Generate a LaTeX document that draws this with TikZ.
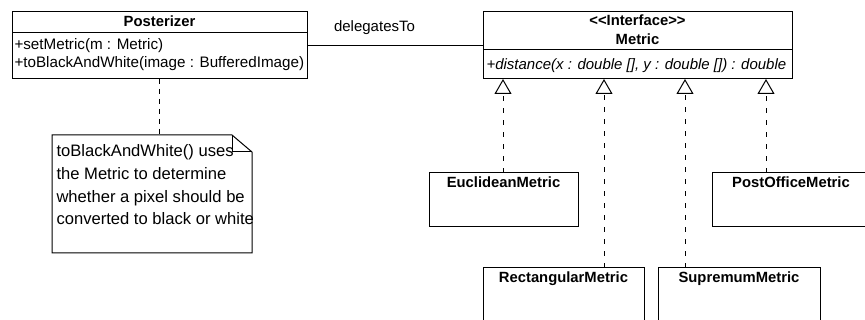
\documentclass[tikz,border=0pt]{standalone}
\usepackage{fontspec}
\setmainfont{Liberation Sans}
\usetikzlibrary{arrows.meta}
\begin{document}
\begin{tikzpicture}[x=1pt, y=-1pt, line width=1pt,
  box/.style={draw, line width=1pt, inner sep=0pt, outer sep=0pt, anchor=north west},
  plainbox/.style={inner sep=0pt, outer sep=0pt, anchor=north west},
  cname/.style={font=\fontsize{14.8}{17}\selectfont\bfseries, inner sep=0pt, anchor=base},
  member/.style={font=\fontsize{15.2}{17}\selectfont, inner sep=0pt, anchor=base west},
  opitalic/.style={member, font=\fontsize{15.0}{17}\selectfont\itshape},
  assoclabel/.style={font=\fontsize{15}{17}\selectfont, inner sep=0pt, anchor=base},
  notetext/.style={font=\fontsize{16.6}{20}\selectfont, inner sep=0pt, anchor=base west},
  assoc/.style={draw, line width=1pt},
  realize/.style={draw, line width=1pt, dash pattern=on 5pt off 7pt,
    -{Triangle[open, length=15pt, width=17pt, line width=1pt]}},
  noteline/.style={draw, line width=1pt, dash pattern=on 5pt off 5pt},
]
\clip (0,0) rectangle (865,320);
\fill[white] (0,0) rectangle (865,320);

% class Posterizer
\node[box, minimum width=295pt, minimum height=67pt] (poster) at (12,12) {};
\draw ([yshift=-21pt]poster.north west) -- ([yshift=-21pt]poster.north east);
\node[cname] (posterName) at ([yshift=-15pt]poster.north) {Posterizer};
\node[member] (posterOp1) at ([xshift=2pt,yshift=-38pt]poster.north west) {+setMetric(m : Metric)};
\node[member] (posterOp2) at ([xshift=2pt,yshift=-56pt]poster.north west) {+toBlackAndWhite(image : BufferedImage)};

% interface Metric
\node[box, minimum width=309pt, minimum height=67pt] (metric) at (483,12) {};
\draw ([yshift=-38pt]metric.north west) -- ([yshift=-38pt]metric.north east);
\node[cname] (metricStereo) at ([yshift=-14pt]metric.north) {<\kern0pt<Interface>\kern0pt>};
\node[cname] (metricName) at ([yshift=-33pt]metric.north) {Metric};
\node[opitalic] (metricOp) at ([xshift=3pt,yshift=-58pt]metric.north west) {+distance(x : double [], y : double []) : double};

% association
\draw[assoc] (poster.east) -- (metric.west);
\node[assoclabel] (assocName) at (374.5,32) {delegatesTo};

% implementations
\node[box, minimum width=149pt, minimum height=54pt] (euclid) at (429,173) {};
\node[cname] (euclidName) at ([yshift=-15pt]euclid.north) {EuclideanMetric};
\node[box, minimum width=158pt, minimum height=54pt] (postoffice) at (712,173) {};
\node[cname] (postofficeName) at ([yshift=-15pt]postoffice.north) {PostOfficeMetric};
\node[box, minimum width=161pt, minimum height=54pt] (rect) at (483,268) {};
\node[cname] (rectName) at ([yshift=-15pt]rect.north) {RectangularMetric};
\node[box, minimum width=162pt, minimum height=54pt] (supremum) at (658,268) {};
\node[cname] (supremumName) at ([yshift=-15pt]supremum.north) {SupremumMetric};

% realization arrows
\coordinate (euclidTop) at ([xshift=74pt]euclid.north west);
\coordinate (rectTop) at ([xshift=121pt]rect.north west);
\coordinate (supremumTop) at ([xshift=27pt]supremum.north west);
\coordinate (postofficeTop) at ([xshift=54pt]postoffice.north west);
\draw[realize] (euclidTop) -- (euclidTop |- metric.south);
\draw[realize] (rectTop) -- (rectTop |- metric.south);
\draw[realize] (supremumTop) -- (supremumTop |- metric.south);
\draw[realize] (postofficeTop) -- (postofficeTop |- metric.south);

% note with folded corner
\node[plainbox, minimum width=200pt, minimum height=118pt] (note) at (52,135) {};
\draw (note.north west) -- ([xshift=-20pt]note.north east) -- ([yshift=-17pt]note.north east)
  -- (note.south east) -- (note.south west) -- cycle;
\draw ([xshift=-20pt]note.north east) |- ([yshift=-17pt]note.north east);
\node[notetext] (noteL1) at ([xshift=4pt,yshift=-22pt]note.north west) {toBlackAndWhite() uses};
\node[notetext] (noteL2) at ([xshift=4pt,yshift=-45pt]note.north west) {the Metric to determine};
\node[notetext] (noteL3) at ([xshift=4pt,yshift=-67.5pt]note.north west) {whether a pixel should be};
\node[notetext] (noteL4) at ([xshift=4pt,yshift=-90pt]note.north west) {converted to black or white};
\draw[noteline] (poster.south) -- (poster.south |- note.north);
\end{tikzpicture}
\end{document}
